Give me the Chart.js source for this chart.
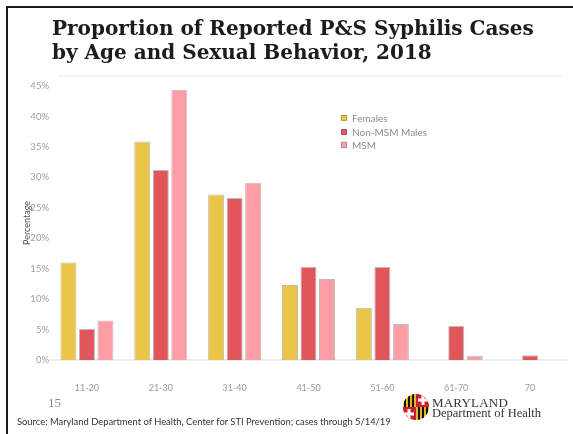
<!DOCTYPE html>
<html>
<head>
<meta charset="utf-8">
<script src="https://cdn.jsdelivr.net/npm/chart.js@4.4.0/dist/chart.umd.min.js"></script>
<style>
  html, body { margin: 0; padding: 0; background: #fff; }
  #page { position: relative; width: 573px; height: 434px; overflow: hidden; }
  #frame { position: absolute; left: 6px; top: 6px; width: 600px; height: 500px;
           border-left: 2px solid #1a1a1a; border-top: 2px solid #1a1a1a; }
  #chart { position: absolute; left: 0; top: 0; }
  .title { position: absolute; left: 52px; top: 16px; font-family: "DejaVu Serif", serif;
           font-weight: bold; font-size: 20px; line-height: 24px; color: #1c1c1c; white-space: nowrap; }
  .rule { position: absolute; left: 58px; top: 75px; width: 504px; height: 2px; background: #f3f3f3; }
  #legend { position: absolute; left: 341px; top: 112px; font-family: Lato, sans-serif;
            font-size: 10px; color: #8c8c8c; }
  #legend div { height: 13.5px; line-height: 13.5px; white-space: nowrap; }
  #legend span { display: inline-block; width: 6px; height: 6px; margin-right: 5px;
                 vertical-align: 1px; border: 1px solid rgba(90,90,90,0.35); box-sizing: border-box; }
  .pageno { position: absolute; left: 48px; top: 395px; font-family: "Liberation Serif", serif;
            font-size: 13px; color: #8a8a8a; }
  .source { position: absolute; left: 17px; top: 416px; font-family: Lato, sans-serif;
            font-size: 9.4px; color: #333; white-space: nowrap; }
  #seal { position: absolute; left: 402px; top: 393px; }
  .md1 { position: absolute; left: 432px; top: 395px; font-family: "Liberation Serif", serif;
         font-size: 13px; color: #333; letter-spacing: 0.2px; }
  .md2 { position: absolute; left: 432px; top: 406px; font-family: "Liberation Serif", serif;
         font-size: 12.5px; color: #333; }
</style>
</head>
<body>
<div id="page">
  <canvas id="chart" width="573" height="434"></canvas>
  <div id="frame"></div>
  <div class="title">Proportion of Reported P&amp;S Syphilis Cases<br>by Age and Sexual Behavior, 2018</div>
  <div class="rule"></div>
  <div id="legend"></div>
  <div class="pageno">15</div>
  <div class="source">Source: Maryland Department of Health, Center for STI Prevention; cases through 5/14/19</div>
  <canvas id="seal" width="28" height="28"></canvas>
  <div class="md1">MARYLAND</div>
  <div class="md2">Department of Health</div>
</div>
<script>
// age groups and share of cases (%) per group
const ageGroups = ['11-20', '21-30', '31-40', '41-50', '51-60', '61-70', '70'];
const females = [16.0, 35.9, 27.2, 12.3, 8.6, null, null];
const nonMsmMales = [5.1, 31.2, 26.6, 15.3, 15.3, 5.6, 0.8];
const msm = [6.5, 44.4, 29.1, 13.3, 5.9, 0.7, null];

const seriesNames = ['Females', 'Non-MSM Males', 'MSM'];
const seriesColors = ['#E9C647', '#E0565A', '#FF9DA7'];
const yMax = 45;
const yStep = 5;

const seriesData = [females, nonMsmMales, msm];

// legend
const legendEl = document.getElementById('legend');
seriesNames.forEach((name, i) => {
    const row = document.createElement('div');
    row.innerHTML = `<span style="background:${seriesColors[i]}"></span>${name}`;
    legendEl.appendChild(row);
});

new Chart(document.getElementById('chart'), {
    type: 'bar',
    data: {
        labels: ageGroups,
        datasets: seriesNames.map((name, i) => ({
            label: name,
            data: seriesData[i],
            backgroundColor: seriesColors[i],
            borderColor: 'rgba(90,90,90,0.4)',
            borderWidth: 1,
            categoryPercentage: 0.752,
            barPercentage: 0.865
        }))
    },
    options: {
        responsive: false,
        animation: false,
        layout: { padding: { top: 86, left: 19, right: 6, bottom: 39 } },
        plugins: { legend: { display: false }, tooltip: { enabled: false } },
        scales: {
            x: {
                grid: { display: false },
                border: { display: true, color: '#ececec', width: 2 },
                ticks: { color: '#9a9a9a', font: { family: 'Lato', size: 9 }, padding: 15, maxRotation: 0 },
                afterFit: (scale) => { scale.height = 35; }
            },
            y: {
                min: 0,
                max: yMax,
                grid: { display: false },
                border: { display: false },
                ticks: {
                    stepSize: yStep,
                    color: '#a0a0a0',
                    font: { family: 'Lato', size: 9.5 },
                    padding: -7,
                    callback: (v) => v + '%'
                },
                title: { display: true, text: 'Percentage', color: '#555', font: { family: 'Lato', size: 9 }, padding: 3 },
                afterFit: (scale) => { scale.width = 31; }
            }
        }
    }
});

// state seal next to the department name
(function drawSeal() {
    const ctx = document.getElementById('seal').getContext('2d');
    const c = 14, r = 13;
    ctx.save();
    ctx.beginPath();
    ctx.arc(c, c, r, 0, Math.PI * 2);
    ctx.clip();
    // gold / black quarters
    ctx.fillStyle = '#E8B526';
    ctx.fillRect(0, 0, 28, 28);
    ctx.fillStyle = '#111';
    for (let i = 0; i < 3; i++) {
        ctx.fillRect(2 + i * 4, 0, 2, 14);
        ctx.fillRect(16 + i * 4, 14, 2, 14);
    }
    // red / white quarters
    ctx.fillStyle = '#C8202F';
    ctx.fillRect(14, 0, 14, 14);
    ctx.fillRect(0, 14, 14, 14);
    ctx.fillStyle = '#fff';
    ctx.fillRect(19.5, 2, 3, 10);
    ctx.fillRect(16, 5.5, 10, 3);
    ctx.fillRect(5.5, 16, 3, 10);
    ctx.fillRect(2, 19.5, 10, 3);
    ctx.restore();
})();
</script>
</body>
</html>
